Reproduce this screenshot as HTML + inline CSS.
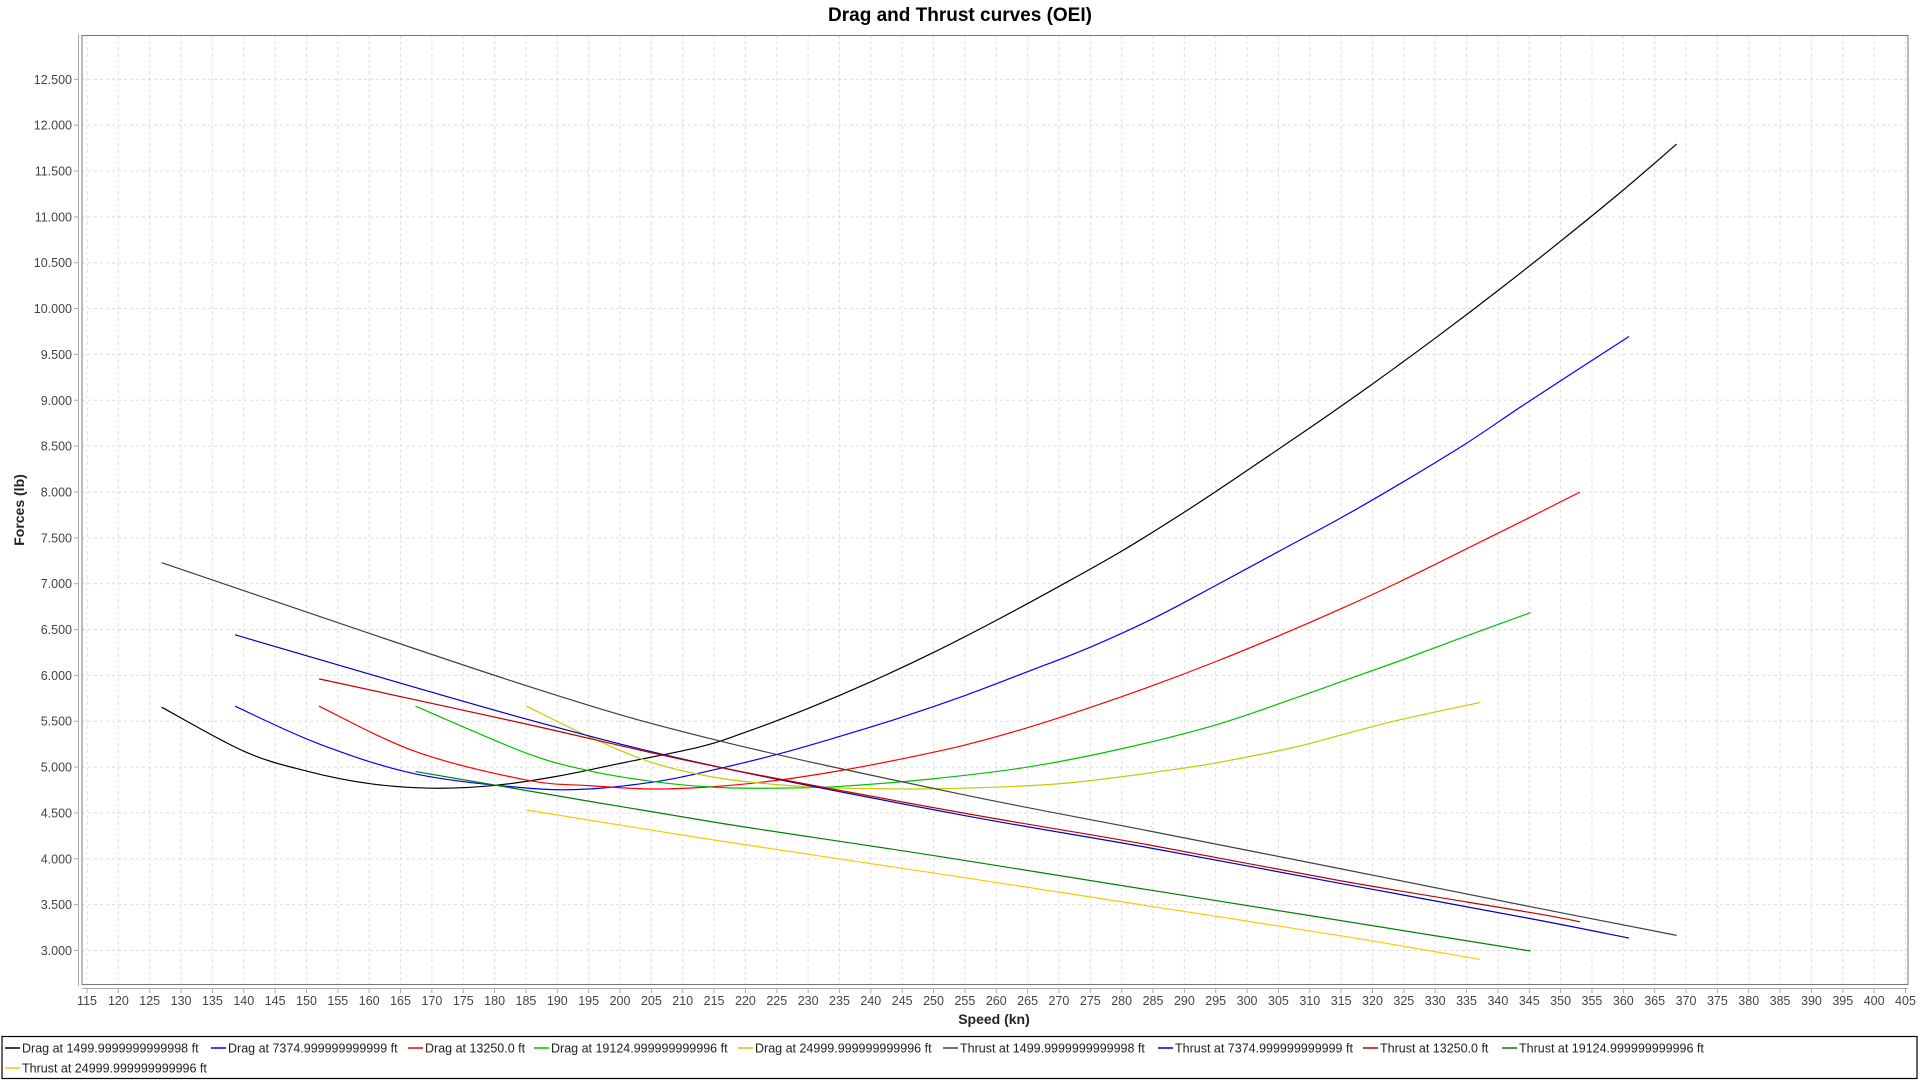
<!DOCTYPE html>
<html><head><meta charset="utf-8"><style>
body{margin:0;background:#fff;font-family:"Liberation Sans",sans-serif}
svg text{font-family:"Liberation Sans",sans-serif}
</style></head><body>
<svg id="c" width="1920" height="1080" xmlns="http://www.w3.org/2000/svg">
<text x="960" y="21" text-anchor="middle" font-size="19" font-weight="bold" fill="#000">Drag and Thrust curves (OEI)</text>
<text transform="translate(24,510) rotate(-90)" text-anchor="middle" font-size="14" font-weight="bold" fill="#222">Forces (lb)</text>
<text x="994" y="1024" text-anchor="middle" font-size="14" font-weight="bold" fill="#222">Speed (kn)</text>
<g id="grid"></g>
<g id="ticks"></g>
<g id="series"></g>
<rect x="82" y="35.5" width="1826" height="949" fill="none" stroke="#777" stroke-width="1"/>
<line x1="78.5" y1="34" x2="78.5" y2="986" stroke="#aaa"/>
<line x1="82" y1="988.5" x2="1908" y2="988.5" stroke="#aaa"/>
<rect x="2" y="1036.5" width="1915" height="42" fill="#fff" stroke="#000" stroke-width="1.2"/>
<g id="legend"></g>
</svg>
<script>
const xTicks=[115,120,125,130,135,140,145,150,155,160,165,170,175,180,185,190,195,200,205,210,215,220,225,230,235,240,245,250,255,260,265,270,275,280,285,290,295,300,305,310,315,320,325,330,335,340,345,350,355,360,365,370,375,380,385,390,395,400,405];
const yTicks=[3000,3500,4000,4500,5000,5500,6000,6500,7000,7500,8000,8500,9000,9500,10000,10500,11000,11500,12000,12500];
const yTickLabels=["3.000","3.500","4.000","4.500","5.000","5.500","6.000","6.500","7.000","7.500","8.000","8.500","9.000","9.500","10.000","10.500","11.000","11.500","12.000","12.500"];
const seriesNames=["Drag at 1499.9999999999998 ft","Drag at 7374.999999999999 ft","Drag at 13250.0 ft","Drag at 19124.999999999996 ft","Drag at 24999.999999999996 ft","Thrust at 1499.9999999999998 ft","Thrust at 7374.999999999999 ft","Thrust at 13250.0 ft","Thrust at 19124.999999999996 ft","Thrust at 24999.999999999996 ft"];
const seriesColors=["#000000","#0000ff","#ff0000","#00c000","#c8c800","#404040","#0000c0","#c00000","#008000","#ffc800"];
const dragBlack=[[126.9,5653],[140,5173],[150,4957],[160,4820],[170,4770],[180,4800],[190,4900],[200,5040],[212.7,5220],[220,5380],[230,5640],[240,5930],[250,6250],[260,6600],[270,6970],[280,7355],[290,7780],[300,8234],[310,8699],[320,9178],[330,9677],[340,10196],[350,10735],[360,11293],[368.5,11794]];
const dragBlue=[[138.6,5664],[152,5253],[167.4,4925],[185,4772],[195,4761],[205,4834],[212.7,4935],[225,5138],[235,5334],[245,5545],[255,5780],[265,6040],[275,6308],[285,6620],[295,6980],[305,7350],[315,7719],[324,8074],[335,8532],[345,8990],[360.9,9695]];
const dragRed=[[152,5664],[167.4,5169],[185,4860],[195,4798],[205,4761],[215,4787],[225,4855],[235,4960],[245,5090],[255,5240],[265,5430],[275,5650],[285,5890],[295,6150],[305,6430],[315,6727],[324,7010],[335,7380],[345,7720],[353.1,8000]];
const dragGreen=[[167.4,5664],[185,5154],[195,4961],[205,4845],[215,4780],[225,4770],[235,4789],[250,4873],[265,5000],[280,5200],[295,5460],[308.4,5770],[315,5931],[324,6150],[335,6430],[345.2,6684]];
const dragYellow=[[185.1,5664],[195,5333],[205,5052],[215,4889],[225,4809],[235,4772],[250,4764],[270,4818],[290,4990],[300,5110],[308.4,5230],[315,5350],[324,5510],[337.2,5705]];
const thrustBlack=[[126.9,7229],[185,5889],[215,5300],[254.2,4707],[283.9,4310],[315,3890],[345,3480],[368.5,3165]];
const thrustBlue=[[138.6,6442],[185,5525],[215,5012],[254.2,4481],[283.9,4126],[315,3730],[345,3350],[360.9,3135]];
const thrustRed=[[152,5962],[185,5470],[215,5010],[254.2,4506],[283.9,4157],[315,3759],[345,3416],[353.1,3312]];
const thrustGreen=[[167.4,4951],[215,4400],[254.2,3990],[345.2,2994]];
const thrustYellow=[[185.1,4532],[215,4205],[254.2,3802],[283.9,3490],[315,3160],[337.2,2902]];
const allSeries=[dragBlack,dragBlue,dragRed,dragGreen,dragYellow,thrustBlack,thrustBlue,thrustRed,thrustGreen,thrustYellow];

const NS="http://www.w3.org/2000/svg";
const X0=82,X1=1908,Y0=984.5,Y1=35.5;
const xMin=114.2,xMax=405.4,yMin=2629,yMax=12978;
function sx(v){return X0+(v-xMin)/(xMax-xMin)*(X1-X0);}
function sy(v){return Y0-(v-yMin)/(yMax-yMin)*(Y0-Y1);}
function mk(tag,attrs,parent){const e=document.createElementNS(NS,tag);for(const k in attrs)e.setAttribute(k,attrs[k]);parent.appendChild(e);return e;}
const grid=document.getElementById('grid'),ticks=document.getElementById('ticks'),ser=document.getElementById('series'),leg=document.getElementById('legend');
xTicks.forEach(t=>{const x=sx(t);
 const l=mk('line',{x1:x,y1:Y1,x2:x,y2:Y0,stroke:'#ddd','stroke-dasharray':'3,3'},grid);
 
 
 const tk=mk('line',{x1:x,y1:989,x2:x,y2:993,stroke:'#aaa'},ticks);
 
 
 const tx=mk('text',{x:x,y:1005,'text-anchor':'middle','font-size':'12.5',fill:'#444'},ticks);tx.textContent=t;
 
 
});
yTicks.forEach((t,i)=>{const y=sy(t);
 const l=mk('line',{x1:X0,y1:y,x2:X1,y2:y,stroke:'#ddd','stroke-dasharray':'3,3'},grid);
 
 
 const tk=mk('line',{x1:74,y1:y,x2:78,y2:y,stroke:'#aaa'},ticks);
 
 
 const tx=mk('text',{x:72,y:y+4.5,'text-anchor':'end','font-size':'12.5',fill:'#444'},ticks);tx.textContent=yTickLabels[i];
 
 
});
function pathFor(pts){const p=pts.map(a=>[sx(a[0]),sy(a[1])]);let d='M'+p[0][0]+','+p[0][1];
 for(let i=0;i<p.length-1;i++){const p0=p[Math.max(0,i-1)],p1=p[i],p2=p[i+1],p3=p[Math.min(p.length-1,i+2)];
  const c1=[p1[0]+(p2[0]-p0[0])/6,p1[1]+(p2[1]-p0[1])/6],c2=[p2[0]-(p3[0]-p1[0])/6,p2[1]-(p3[1]-p1[1])/6];
  d+=' C'+c1[0]+','+c1[1]+' '+c2[0]+','+c2[1]+' '+p2[0]+','+p2[1];}
 return d;}
allSeries.forEach((s,i)=>{const p=mk('path',{d:pathFor(s),fill:'none',stroke:seriesColors[i],'stroke-width':'1.2'},ser);
 
 
});
const legX=[5,211,408,534,738,943,1158,1363,1502,5];
seriesNames.forEach((n,i)=>{const y=i<9?1048:1068;const g=mk('g',{},leg);
 
 
 mk('line',{x1:legX[i],y1:y,x2:legX[i]+15,y2:y,stroke:seriesColors[i],'stroke-width':'1.5'},g);
 const t=mk('text',{x:legX[i]+17,y:y+4.5,'font-size':'12.5',fill:'#222'},g);t.textContent=n;
});
</script>
</body></html>
